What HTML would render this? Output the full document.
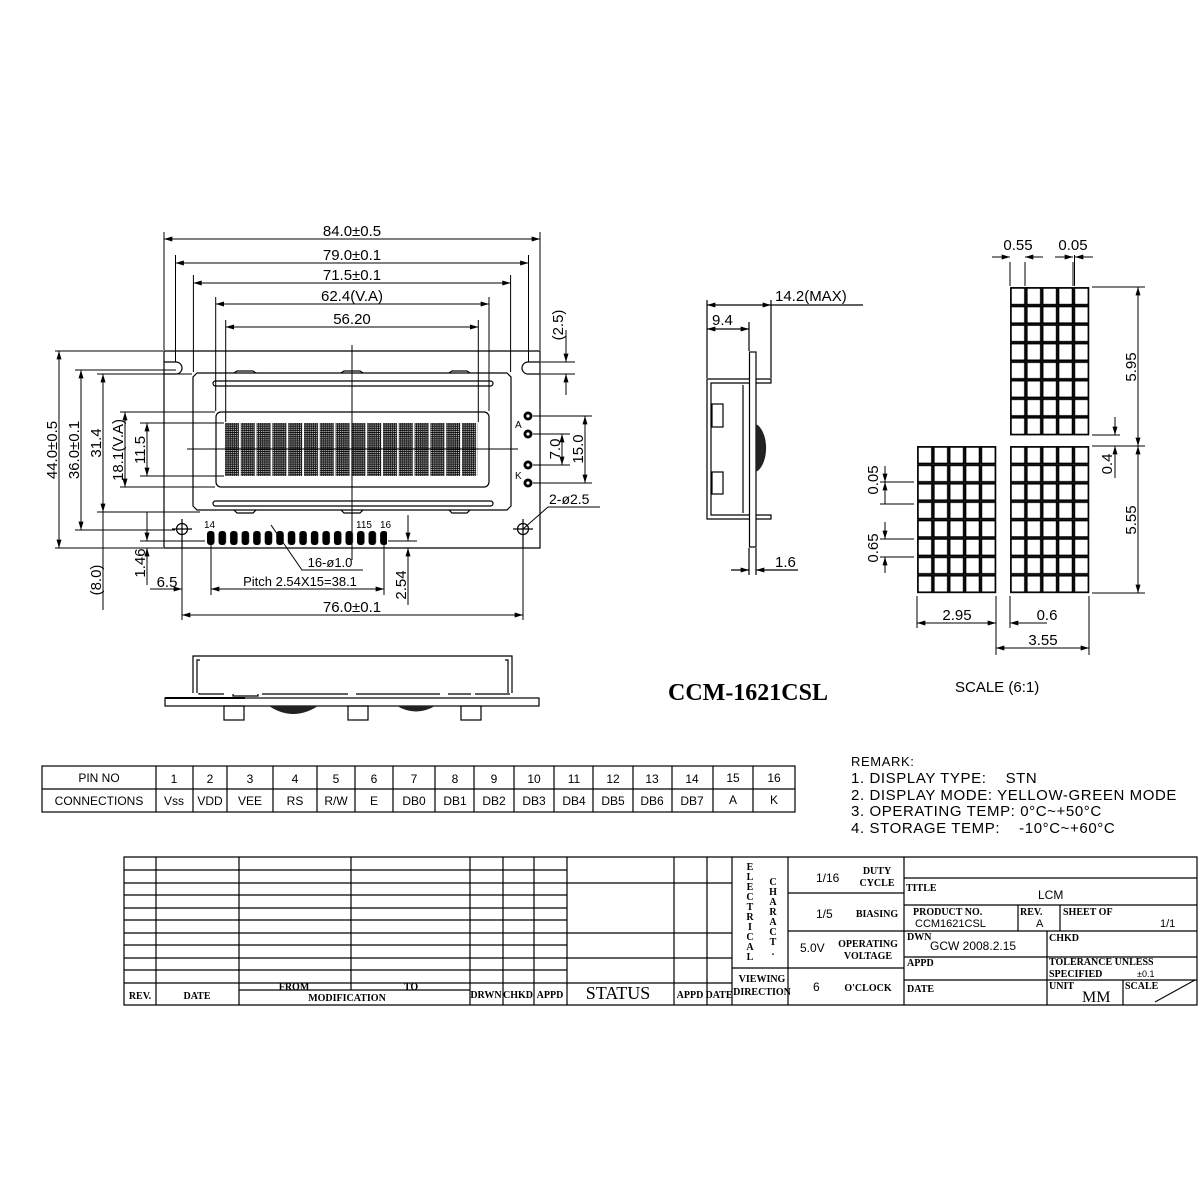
<!DOCTYPE html>
<html><head><meta charset="utf-8"><style>html,body{margin:0;padding:0;background:#fff}svg{display:block}</style></head>
<body>
<svg width="1200" height="1200" viewBox="0 0 1200 1200" xmlns="http://www.w3.org/2000/svg" font-family="Liberation Sans, DejaVu Sans, sans-serif">
<defs>
<marker id="a" viewBox="0 0 10 6" refX="10" refY="3" markerWidth="9" markerHeight="5" markerUnits="userSpaceOnUse" orient="auto-start-reverse"><path d="M0,0L10,3L0,6z" fill="#000"/></marker>
<pattern id="dot" width="1.9" height="1.9" patternUnits="userSpaceOnUse"><rect width="1.9" height="1.9" fill="#111"/><rect x="0.5" y="0.5" width="0.9" height="0.9" fill="#fff"/></pattern>
<pattern id="chr" x="225" y="423" width="15.8" height="53" patternUnits="userSpaceOnUse"><rect x="0" y="0" width="14" height="53" fill="url(#dot)"/></pattern>
<pattern id="pin" x="207" y="531" width="11.54" height="16" patternUnits="userSpaceOnUse"><rect x="0" y="0" width="7.5" height="14" rx="3" fill="#000"/></pattern>
<pattern id="cellR" x="1010" y="287" width="15.86" height="18.55" patternUnits="userSpaceOnUse"><rect x="0.9" y="0.9" width="14.1" height="16.8" fill="none" stroke="#000" stroke-width="1.7"/></pattern>
<pattern id="cellL" x="917" y="446" width="15.86" height="18.4" patternUnits="userSpaceOnUse"><rect x="0.9" y="0.9" width="14.1" height="16.6" fill="none" stroke="#000" stroke-width="1.7"/></pattern>
<pattern id="cellB" x="1010" y="446" width="15.86" height="18.4" patternUnits="userSpaceOnUse"><rect x="0.9" y="0.9" width="14.1" height="16.6" fill="none" stroke="#000" stroke-width="1.7"/></pattern>
</defs>
<rect width="1200" height="1200" fill="#fff"/>

<!-- ===== FRONT VIEW ===== -->
<g fill="none" stroke="#000" stroke-width="1.2">
<path d="M164,351 H540 V548 H164 Z"/>
<path d="M164,362 H176 M164,374 H176"/>
<path d="M176,362 A6,6 0 0 1 176,374"/>
<path d="M540,362 H528 M540,374 H528"/>
<path d="M528,362 A6,6 0 0 0 528,374"/>
<path d="M197,373 H507 L511,377 V506 L507,510 H197 L193,506 V377 Z"/>
<rect x="213" y="381" width="280" height="5" rx="2.5"/>
<rect x="213" y="501" width="280" height="5" rx="2.5"/>
<rect x="216" y="412" width="273" height="75" rx="5"/>
<path d="M234,373 L237,371 H253 L256,373 M341,373 L344,371 H360 L363,373 M449,373 L452,371 H467 L470,373"/>
<path d="M234,510 L237,513 H253 L256,510 M341,510 L344,513 H360 L363,510 M449,510 L452,513 H467 L470,510"/>
<circle cx="182" cy="529" r="5.5"/><circle cx="523" cy="529" r="5.5"/>
<path d="M172,529 H192 M182,519 V548 M513,529 H533 M523,519 V548"/>
</g>
<rect x="225" y="423" width="253" height="53" fill="url(#chr)"/>
<rect x="207" y="531" width="180" height="15" fill="url(#pin)"/>
<g stroke="#000" stroke-width="1" fill="none">
<path d="M352,345 V560"/>
<path d="M187,449 H518"/>
</g>
<g fill="#000"><circle cx="528" cy="416" r="4.5"/><circle cx="528" cy="434" r="4.5"/><circle cx="528" cy="465" r="4.5"/><circle cx="528" cy="483" r="4.5"/></g>
<g fill="#fff"><circle cx="528" cy="416" r="1.6"/><circle cx="528" cy="434" r="1.6"/><circle cx="528" cy="465" r="1.6"/><circle cx="528" cy="483" r="1.6"/></g>
<g font-size="10"><text x="515" y="428">A</text><text x="515" y="479">K</text></g>

<g stroke="#000" stroke-width="1" fill="none">
<path d="M164,232 V350 M540,232 V350"/>
<path d="M175.5,255 V362 M528.5,255 V362"/>
<path d="M193.4,275 V372 M510.6,275 V372"/>
<path d="M215.7,297 V411 M489,297 V411"/>
<path d="M225.7,320 V422 M478.3,320 V422"/>
<path d="M164,239 H540" marker-start="url(#a)" marker-end="url(#a)"/>
<path d="M175.5,263 H528.5" marker-start="url(#a)" marker-end="url(#a)"/>
<path d="M193.4,283 H510.6" marker-start="url(#a)" marker-end="url(#a)"/>
<path d="M215.7,304 H489" marker-start="url(#a)" marker-end="url(#a)"/>
<path d="M225.7,327 H478.3" marker-start="url(#a)" marker-end="url(#a)"/>
<path d="M55,351 H163 M75,370 H176 M97,374 H192 M120,412 H215 M140,423 H224 M140,476 H224 M120,487 H215 M97,512 H200 M75,530 H175 M55,548 H163 M140,541 H205"/>
<path d="M59,351 V548" marker-start="url(#a)" marker-end="url(#a)"/>
<path d="M81,370 V530" marker-start="url(#a)" marker-end="url(#a)"/>
<path d="M103,374 V512" marker-start="url(#a)" marker-end="url(#a)"/>
<path d="M125,412 V487" marker-start="url(#a)" marker-end="url(#a)"/>
<path d="M147,423 V476" marker-start="url(#a)" marker-end="url(#a)"/>
<path d="M103,512 V610"/>
<path d="M147,512 V541" marker-end="url(#a)"/>
<path d="M147,548 V585" marker-start="url(#a)"/>
<path d="M533,416 H592 M533,434 H570 M533,465 H570 M533,483 H592"/>
<path d="M585,416 V483" marker-start="url(#a)" marker-end="url(#a)"/>
<path d="M562,434 V465" marker-start="url(#a)" marker-end="url(#a)"/>
<path d="M541,362 H575 M541,374 H575"/>
<path d="M566,330 V362" marker-end="url(#a)"/>
<path d="M566,374 V395" marker-start="url(#a)"/>
<path d="M523,529 L548,507 H600"/>
<path d="M182,535 V620 M523,535 V620 M211,545 V595 M384,545 V595 M388,541 H417 M388,548 H417"/>
<path d="M150,589 H182" marker-end="url(#a)"/>
<path d="M211,589 H384" marker-start="url(#a)" marker-end="url(#a)"/>
<path d="M182,615 H523" marker-start="url(#a)" marker-end="url(#a)"/>
<path d="M408,515 V541" marker-end="url(#a)"/>
<path d="M408,548 V605" marker-start="url(#a)"/>
<path d="M271,525 L302,570 H363"/>
</g>
<g font-size="15" text-anchor="middle">
<text x="352" y="236">84.0±0.5</text>
<text x="352" y="260">79.0±0.1</text>
<text x="352" y="280">71.5±0.1</text>
<text x="352" y="301">62.4(V.A)</text>
<text x="352" y="324">56.20</text>
<text x="352" y="612">76.0±0.1</text>
<text x="167" y="587">6.5</text>
<text x="300" y="586" font-size="13">Pitch 2.54X15=38.1</text>
<text x="330" y="567" font-size="13">16-ø1.0</text>
<text x="549" y="504" text-anchor="start" font-size="14">2-ø2.5</text>
<text transform="translate(57,450) rotate(-90)">44.0±0.5</text>
<text transform="translate(79,450) rotate(-90)">36.0±0.1</text>
<text transform="translate(101,443) rotate(-90)">31.4</text>
<text transform="translate(123,450) rotate(-90)">18.1(V.A)</text>
<text transform="translate(145,450) rotate(-90)">11.5</text>
<text transform="translate(101,580) rotate(-90)">(8.0)</text>
<text transform="translate(145,563) rotate(-90)">1.46</text>
<text transform="translate(406,585) rotate(-90)">2.54</text>
<text transform="translate(583,449) rotate(-90)">15.0</text>
<text transform="translate(560,449) rotate(-90)">7.0</text>
<text transform="translate(563,325) rotate(-90)">(2.5)</text>
</g>
<g font-size="10"><text x="204" y="528">14</text><text x="356" y="528">115</text><text x="380" y="528">16</text></g>

<!-- ===== BOTTOM VIEW ===== -->
<g fill="none" stroke="#000" stroke-width="1.2">
<rect x="165" y="698" width="374" height="8"/>
<path d="M193,693 V656 H512 V693 M197,693 V660 H200 M508,693 V660 H505"/>
<path d="M199,693 V694 H224 M233,694 V696 H258 V694 M262,694 H348 M356,694 H440 M448,694 H471 M475,694 H510"/>
<rect x="224" y="706" width="20" height="14"/><rect x="348" y="706" width="20" height="14"/><rect x="461" y="706" width="20" height="14"/>
</g>
<path d="M165,698 H245" stroke="#000" stroke-width="2"/>
<path d="M269,706 Q293,722 318,706 Z" fill="#222"/>
<path d="M397,706 Q416,717 435,706 Z" fill="#222"/>

<!-- ===== SIDE VIEW ===== -->
<g fill="none" stroke="#000" stroke-width="1.2">
<rect x="749.5" y="352" width="6.5" height="195"/>
<path d="M749,379 H707 V519 H749 M756,379 H771 V383 H756 M756,515 H771 V519 H756"/>
<path d="M749,383 H711 V515 H749 M743,385 V513"/>
<rect x="712" y="404" width="11" height="23"/><rect x="712" y="472" width="11" height="22"/>
<path d="M707,300 V378 M771,300 V378 M749,322 V351 M749,548 V575 M756,548 V575"/>
<path d="M707,305 H771" marker-start="url(#a)" marker-end="url(#a)"/>
<path d="M771,305 H863"/>
<path d="M707,329 H749" marker-start="url(#a)" marker-end="url(#a)"/>
<path d="M731,570 H749" marker-end="url(#a)"/>
<path d="M756,570 H798" marker-start="url(#a)"/>
</g>
<path d="M756,424 A14,25 0 0 1 756,472 Z" fill="#222"/>
<g font-size="15"><text x="775" y="301">14.2(MAX)</text><text x="712" y="325">9.4</text><text x="775" y="567">1.6</text></g>

<!-- ===== PIXEL GRID ===== -->
<rect x="1010" y="287" width="79.3" height="148.4" fill="url(#cellR)"/>
<rect x="1010" y="446" width="79.3" height="147.2" fill="url(#cellB)"/>
<rect x="917" y="446" width="79.3" height="147.2" fill="url(#cellL)"/>
<g fill="none" stroke="#000" stroke-width="1">
<path d="M1010,262 V286 M1025,262 V286 M1073,262 V286 M1074.5,255 V286"/>
<path d="M992,257 H1010" marker-end="url(#a)"/>
<path d="M1025,257 H1043" marker-start="url(#a)"/>
<path d="M1055,257 H1073" marker-end="url(#a)"/>
<path d="M1075,257 H1093" marker-start="url(#a)"/>
<path d="M1092,287 H1145 M1092,435 H1120 M1092,446 H1145 M1092,593 H1145"/>
<path d="M1138,287 V446" marker-start="url(#a)" marker-end="url(#a)"/>
<path d="M1138,446 V593" marker-start="url(#a)" marker-end="url(#a)"/>
<path d="M1115,417 V435" marker-end="url(#a)"/>
<path d="M1115,446 V478" marker-start="url(#a)"/>
<path d="M880,482 H914 M880,504 H914 M880,539 H914 M880,557 H914"/>
<path d="M885,466 V482" marker-end="url(#a)"/>
<path d="M885,482 V504" marker-start="url(#a)"/>
<path d="M885,522 V539" marker-end="url(#a)"/>
<path d="M885,557 V573" marker-start="url(#a)"/>
<path d="M917,596 V628 M996,596 V655 M1010,596 V628 M1089,596 V655"/>
<path d="M917,623 H996" marker-start="url(#a)" marker-end="url(#a)"/>
<path d="M1010,623 H1047" marker-start="url(#a)"/>
<path d="M996,648 H1089" marker-start="url(#a)" marker-end="url(#a)"/>
</g>
<g font-size="15" text-anchor="middle">
<text x="1018" y="250">0.55</text><text x="1073" y="250">0.05</text>
<text x="957" y="620">2.95</text><text x="1047" y="620">0.6</text><text x="1043" y="645">3.55</text>
<text transform="translate(1136,367) rotate(-90)">5.95</text>
<text transform="translate(1136,520) rotate(-90)">5.55</text>
<text transform="translate(1112,464) rotate(-90)">0.4</text>
<text transform="translate(878,480) rotate(-90)">0.05</text>
<text transform="translate(878,548) rotate(-90)">0.65</text>
</g>

<text x="668" y="700" font-family="Liberation Serif, serif" font-weight="bold" font-size="24">CCM-1621CSL</text>
<text x="955" y="692" font-size="15">SCALE (6:1)</text>

<!-- ===== PIN TABLE ===== -->
<g fill="none" stroke="#000" stroke-width="1.2">
<rect x="42" y="766" width="753" height="46"/>
<path d="M42,789 H795"/>
<path d="M156,766V812 M193,766V812 M227,766V812 M273,766V812 M317,766V812 M355,766V812 M393,766V812 M435,766V812 M474,766V812 M514,766V812 M554,766V812 M593,766V812 M633,766V812 M672,766V812 M713,766V812 M753,766V812"/>
</g>
<g font-size="12" text-anchor="middle">
<text x="99" y="782">PIN NO</text>
<text x="174" y="783">1</text><text x="210" y="783">2</text><text x="250" y="783">3</text><text x="295" y="783">4</text><text x="336" y="783">5</text><text x="374" y="783">6</text><text x="414" y="783">7</text><text x="455" y="783">8</text><text x="494" y="783">9</text><text x="534" y="783">10</text><text x="574" y="783">11</text><text x="613" y="783">12</text><text x="652" y="783">13</text><text x="692" y="783">14</text><text x="733" y="782">15</text><text x="774" y="782">16</text>
<text x="99" y="805">CONNECTIONS</text>
<text x="174" y="805">Vss</text><text x="210" y="805">VDD</text><text x="250" y="805">VEE</text><text x="295" y="805">RS</text><text x="336" y="805">R/W</text><text x="374" y="805">E</text><text x="414" y="805">DB0</text><text x="455" y="805">DB1</text><text x="494" y="805">DB2</text><text x="534" y="805">DB3</text><text x="574" y="805">DB4</text><text x="613" y="805">DB5</text><text x="652" y="805">DB6</text><text x="692" y="805">DB7</text><text x="733" y="804">A</text><text x="774" y="804">K</text>
</g>

<g font-size="15" letter-spacing="0.6">
<text x="851" y="766" font-size="13">REMARK:</text>
<text x="851" y="783" xml:space="preserve">1. DISPLAY TYPE:    STN</text>
<text x="851" y="800">2. DISPLAY MODE: YELLOW-GREEN MODE</text>
<text x="851" y="816">3. OPERATING TEMP: 0°C~+50°C</text>
<text x="851" y="833" xml:space="preserve">4. STORAGE TEMP:    -10°C~+60°C</text>
</g>

<!-- ===== TITLE BLOCK ===== -->
<g fill="none" stroke="#000" stroke-width="1.2">
<path d="M124,857 H1197 V1005 H124 Z"/>
<path d="M124,870 H567 M124,883 H567 M124,895 H567 M124,908 H567 M124,920 H567 M124,933 H567 M124,945 H567 M124,958 H567 M124,970 H567 M124,983 H567"/>
<path d="M567,883 H732 M567,933 H732 M567,958 H732 M567,983 H732"/>
<path d="M156,857V1005 M239,857V1005 M351,857V990 M470,857V1005 M503,857V1005 M534,857V1005 M567,857V1005 M674,857V1005 M707,857V1005 M732,857V1005"/>
<path d="M239,990 H470"/>
<path d="M788,857V1005 M904,857V1005 M732,968 H788 M788,893 H904 M788,931 H904 M788,968 H904"/>
<path d="M904,878 H1197 M904,905 H1197 M904,931 H1197 M904,957 H1197 M904,980 H1197"/>
<path d="M1018,905V931 M1060,905V931 M1047,931V1005 M1123,980V1005"/>
<path d="M1155,1002 L1195,980" stroke-width="1"/>
</g>
<g font-family="Liberation Serif, serif" font-weight="bold" font-size="10" text-anchor="middle">
<text x="140" y="999">REV.</text><text x="197" y="999">DATE</text>
<text x="294" y="990">FROM</text><text x="411" y="990">TO</text><text x="347" y="1001">MODIFICATION</text>
<text x="486" y="998">DRWN</text><text x="518" y="998">CHKD</text><text x="550" y="998">APPD</text>
<text x="690" y="998">APPD</text><text x="719" y="998">DATE</text>
<text x="762" y="982">VIEWING</text><text x="762" y="995">DIRECTION</text>
<text x="877" y="874">DUTY</text><text x="877" y="886">CYCLE</text>
<text x="877" y="917">BIASING</text>
<text x="868" y="947">OPERATING</text><text x="868" y="959">VOLTAGE</text>
<text x="868" y="991">O'CLOCK</text>
</g>
<text x="618" y="999" font-family="Liberation Serif, serif" font-size="18" text-anchor="middle">STATUS</text>
<g font-family="Liberation Serif, serif" font-weight="bold" font-size="10" text-anchor="middle">
<text x="750" y="870">E</text><text x="750" y="880">L</text><text x="750" y="890">E</text><text x="750" y="900">C</text><text x="750" y="910">T</text><text x="750" y="920">R</text><text x="750" y="930">I</text><text x="750" y="940">C</text><text x="750" y="950">A</text><text x="750" y="960">L</text>
<text x="773" y="885">C</text><text x="773" y="895">H</text><text x="773" y="905">A</text><text x="773" y="915">R</text><text x="773" y="925">A</text><text x="773" y="935">C</text><text x="773" y="945">T</text><text x="773" y="955">.</text>
</g>
<g font-size="12">
<text x="816" y="882">1/16</text><text x="816" y="918">1/5</text><text x="800" y="952">5.0V</text><text x="813" y="991">6</text>
<text x="1038" y="899">LCM</text>
<text x="915" y="927" font-size="11">CCM1621CSL</text>
<text x="1036" y="927" font-size="11">A</text>
<text x="1160" y="927" font-size="11">1/1</text>
<text x="930" y="950">GCW  2008.2.15</text>
<text x="1137" y="977" font-size="9">±0.1</text>
</g>
<g font-family="Liberation Serif, serif" font-weight="bold" font-size="10">
<text x="906" y="891">TITLE</text>
<text x="913" y="915">PRODUCT  NO.</text><text x="1020" y="915">REV.</text><text x="1063" y="915">SHEET  OF</text>
<text x="907" y="940">DWN</text><text x="1049" y="941">CHKD</text>
<text x="907" y="966">APPD</text>
<text x="1049" y="965">TOLERANCE  UNLESS</text><text x="1049" y="977">SPECIFIED</text>
<text x="907" y="992">DATE</text><text x="1049" y="989">UNIT</text><text x="1125" y="989">SCALE</text>
</g>
<text x="1082" y="1002" font-family="Liberation Serif, serif" font-size="16">MM</text>
</svg>
</body></html>
